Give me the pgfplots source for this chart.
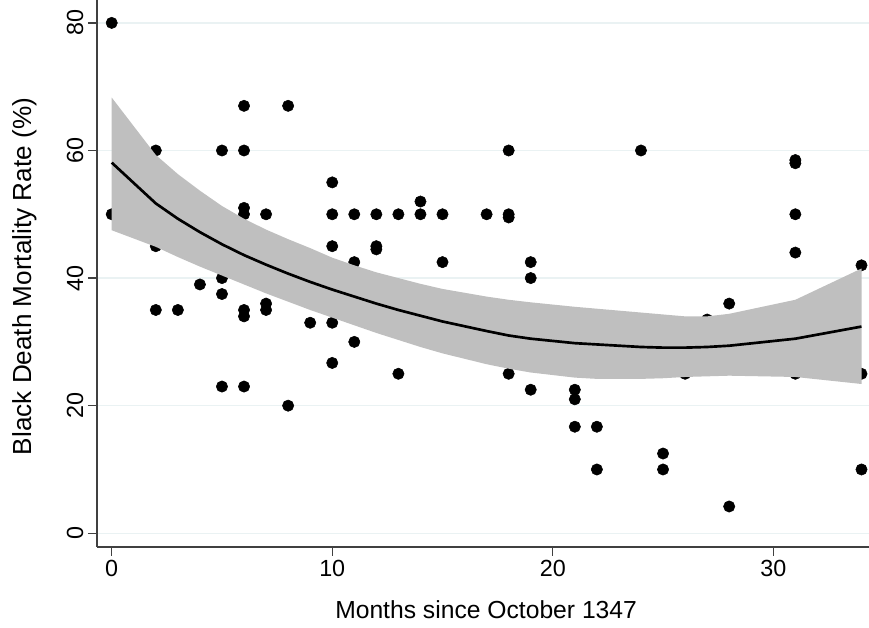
\documentclass[border=0pt]{standalone}
\usepackage{fontspec}
\setmainfont{Liberation Sans}
\usepackage{pgfplots}
\pgfplotsset{compat=1.18}
\definecolor{gridc}{HTML}{EAF2F3}
\definecolor{bandc}{HTML}{BFBFBF}
\definecolor{axc}{HTML}{404040}
\begin{document}
\begin{tikzpicture}
\useasboundingbox (0pt,0pt) rectangle (651.75pt,471pt);
\begin{axis}[
  at={(72.75pt,60.75pt)}, anchor=south west,
  scale only axis, width=579pt, height=410.25pt,
  xmin=-0.667, xmax=34.34, ymin=-2.15, ymax=83.59,
  axis x line*=bottom, axis y line*=left,
  axis line style={axc, line width=1.1pt},
  xtick={0,10,20,30}, ytick={0,20,40,60,80},
  tick align=outside, major tick length=6.75pt,
  tick style={axc, line width=1pt},
  ymajorgrids, grid style={gridc, line width=1.1pt},
  /pgf/number format/assume math mode=true,
  tick label style={font=\fontsize{17.5}{20}\selectfont},
  yticklabel style={rotate=90, anchor=south},
  xlabel={Months since October 1347},
  ylabel={Black Death Mortality Rate (\%)},
  xlabel style={font=\fontsize{18.5}{21}\selectfont, at={(axis description cs:0.504,-0.115)}, anchor=center},
  ylabel style={font=\fontsize{19.6}{22}\selectfont, at={(axis description cs:-0.0933,0.4945)}, anchor=center},
  clip marker paths=true,
]
\addplot[only marks, mark=*, mark size=4.25pt, black] coordinates {
(0,80)(0,50)
(2,60)(2,45)(2,35)
(3,55)(3,35)
(4,39)
(5,60)(5,40)(5,37.5)(5,23)
(6,67)(6,60)(6,51)(6,50)(6,35)(6,34)(6,23)
(7,50)(7,36)(7,35)
(8,67)(8,45)(8,20)
(9,33)
(10,55)(10,50)(10,45)(10,33)(10,26.7)
(11,50)(11,42.5)(11,30)
(12,50)(12,45)(12,44.5)
(13,50)(13,25)
(14,52)(14,50)
(15,50)(15,42.5)
(17,50)
(18,60)(18,50)(18,49.5)(18,25)
(19,42.5)(19,40)(19,22.5)
(21,22.5)(21,21)(21,16.7)
(22,16.7)(22,10)
(24,60)
(25,12.5)(25,10)
(26,25)
(27,33.5)
(28,36)(28,4.2)
(31,58.5)(31,58)(31,50)(31,44)(31,25)
(34,42)(34,25)(34,10)
};
\addplot[fill=bandc, draw=none] coordinates {
(0,68.3)(2,59.3)(3,56.3)(4,53.7)(5,51.3)(6,49.3)(7,47.6)(8,46.1)(9,44.7)(10,43.2)
(11,42.0)(12,40.9)(13,40.0)(14,39.1)(15,38.3)(17,37.1)(18,36.6)(19,36.2)(21,35.5)
(22,35.2)(24,34.6)(25,34.3)(26,34.0)(27,34.0)(28,34.4)(31,36.6)(34,41.5)
(34,23.4)(31,24.5)(28,24.7)(27,24.6)(26,24.5)(25,24.3)(24,24.2)(22,24.2)(21,24.4)
(19,25.2)(18,25.8)(17,26.5)(15,28.2)(14,29.2)(13,30.3)(12,31.4)(11,32.6)(10,33.8)
(9,35.0)(8,36.3)(7,37.6)(6,39.0)(5,40.4)(4,41.8)(3,43.3)(2,44.9)(0,47.5)
} -- cycle;
\addplot[black, line width=2pt, no marks] coordinates {
(0,58.1)(2,51.7)(3,49.3)(4,47.2)(5,45.3)(6,43.6)(7,42.1)(8,40.7)(9,39.4)(10,38.2)
(11,37.1)(12,36.0)(13,35.0)(14,34.1)(15,33.2)(17,31.7)(18,31.0)(19,30.5)(21,29.8)
(22,29.6)(24,29.2)(25,29.1)(26,29.1)(27,29.2)(28,29.4)(31,30.5)(34,32.4)
};
\end{axis}
\end{tikzpicture}
\end{document}
